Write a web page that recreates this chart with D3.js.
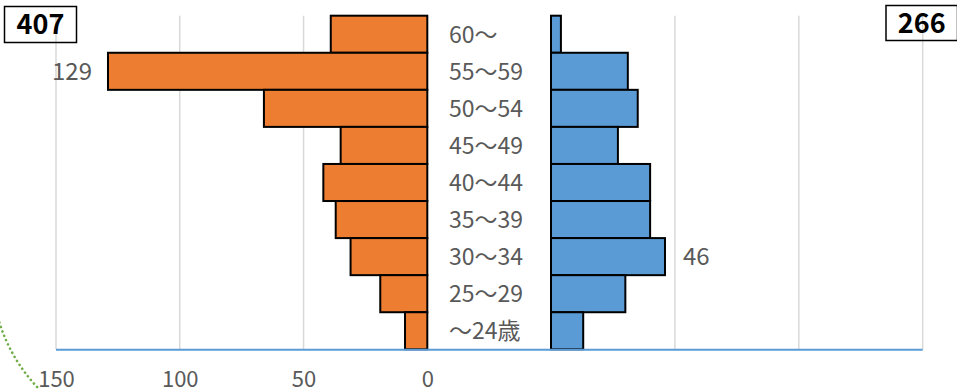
<!DOCTYPE html>
<html>
<head>
<meta charset="utf-8">
<script src="https://cdn.jsdelivr.net/npm/d3@7"></script>
<style>
  html, body { margin: 0; padding: 0; background: #fff; }
  svg { display: block; font-family: "Noto Sans CJK JP", "Noto Sans", sans-serif; }
</style>
</head>
<body>
<svg id="chart" width="957" height="390"></svg>
<script>
// Age groups, top to bottom
const categories = ["60～", "55～59", "50～54", "45～49", "40～44", "35～39", "30～34", "25～29", "～24歳"];
// Left-hand (orange) and right-hand (blue) headcounts per age group
const leftValues  = [39, 129, 66, 35, 42, 37, 31, 19, 9];
const rightValues = [4, 31, 35, 27, 40, 40, 46, 30, 13];
// Axis ticks for the left half
const tickValues = [150, 100, 50, 0];
// Values called out next to their bars
const leftCallout = "55～59";
const rightCallout = "30～34";

const svg = d3.select("#chart");

const plotTop = 15.7, plotBottom = 349.3;
const xL = d3.scaleLinear().domain([0, 150]).range([427.3, 56]);
const xR = d3.scaleLinear().domain([0, 150]).range([551, 922.7]);
const y = d3.scaleBand().domain(categories).range([plotTop, plotBottom]).padding(0);

const gridColor = "#d9d9d9";
const textColor = "#595959";

// Vertical gridlines
const grid = svg.append("g");
grid.selectAll("line.l").data(tickValues).join("line").attr("class", "l")
  .attr("x1", d => xL(d)).attr("x2", d => xL(d))
  .attr("y1", plotTop).attr("y2", plotBottom)
  .attr("stroke", gridColor).attr("stroke-width", 1.5);
grid.selectAll("line.r").data([50, 100, 150]).join("line").attr("class", "r")
  .attr("x1", d => xR(d)).attr("x2", d => xR(d))
  .attr("y1", plotTop).attr("y2", plotBottom)
  .attr("stroke", gridColor).attr("stroke-width", 1.5);

// Bars
const leftData = categories.map((c, i) => ({ c, v: leftValues[i] }));
const rightData = categories.map((c, i) => ({ c, v: rightValues[i] }));

svg.append("g").selectAll("rect").data(leftData).join("rect")
  .attr("x", d => xL(d.v)).attr("y", d => y(d.c))
  .attr("width", d => xL(0) - xL(d.v)).attr("height", y.bandwidth())
  .attr("fill", "#ED7D31").attr("stroke", "#000").attr("stroke-width", 2);

svg.append("g").selectAll("rect").data(rightData).join("rect")
  .attr("x", xR(0)).attr("y", d => y(d.c))
  .attr("width", d => xR(d.v) - xR(0)).attr("height", y.bandwidth())
  .attr("fill", "#5B9BD5").attr("stroke", "#000").attr("stroke-width", 2);

// Baseline
svg.append("line")
  .attr("x1", xL(150)).attr("x2", xR(150))
  .attr("y1", plotBottom + 0.5).attr("y2", plotBottom + 0.5)
  .attr("stroke", "#5B9BD5").attr("stroke-width", 2);

// Age group labels in the centre column
svg.append("g").selectAll("text").data(categories).join("text")
  .attr("x", 449).attr("y", d => y(d) + y.bandwidth() / 2)
  .attr("dy", "0.36em")
  .attr("font-size", 23).attr("fill", textColor)
  .text(d => d);

// Bottom axis (left half only)
const axis = d3.axisBottom(xL).tickValues(tickValues).tickSize(0).tickPadding(0);
const ax = svg.append("g").attr("transform", `translate(0,${plotBottom})`).call(axis);
ax.select(".domain").remove();
ax.selectAll("text")
  .attr("y", 30).attr("dy", "0.36em")
  .attr("font-size", 22).attr("fill", textColor)
  .attr("font-family", "'Noto Sans CJK JP', 'Noto Sans', sans-serif");

// Value callouts
const li = categories.indexOf(leftCallout);
svg.append("text")
  .attr("x", xL(leftValues[li]) - 16).attr("y", y(leftCallout) + y.bandwidth() / 2)
  .attr("dy", "0.36em").attr("text-anchor", "end")
  .attr("font-size", 24).attr("fill", textColor)
  .text(leftValues[li]);
const ri = categories.indexOf(rightCallout);
svg.append("text")
  .attr("x", xR(rightValues[ri]) + 18).attr("y", y(rightCallout) + y.bandwidth() / 2)
  .attr("dy", "0.36em").attr("text-anchor", "start")
  .attr("font-size", 24).attr("fill", textColor)
  .text(rightValues[ri]);

// Totals in boxes
const leftTotal = d3.sum(leftValues), rightTotal = d3.sum(rightValues);
function totalBox(x0, x1, y0, y1, value) {
  const g = svg.append("g");
  g.append("rect").attr("x", x0).attr("y", y0)
    .attr("width", x1 - x0).attr("height", y1 - y0)
    .attr("fill", "none").attr("stroke", "#000").attr("stroke-width", 1.5);
  g.append("text").attr("x", (x0 + x1) / 2).attr("y", (y0 + y1) / 2)
    .attr("dy", "0.36em").attr("text-anchor", "middle")
    .attr("font-size", 27).attr("font-weight", "bold").attr("fill", "#000")
    .text(value);
}
totalBox(4.5, 76.5, 6.5, 42.5, leftTotal);
totalBox(886, 957.5, 5.5, 40.5, rightTotal);

// Decorative dotted arc at the lower-left corner
svg.append("path")
  .attr("d", "M -2 318 A 168 168 0 0 0 40 390")
  .attr("fill", "none").attr("stroke", "#70AD47")
  .attr("stroke-width", 2.6).attr("stroke-linecap", "round")
  .attr("stroke-dasharray", "0.1 4.6");
</script>
</body>
</html>
